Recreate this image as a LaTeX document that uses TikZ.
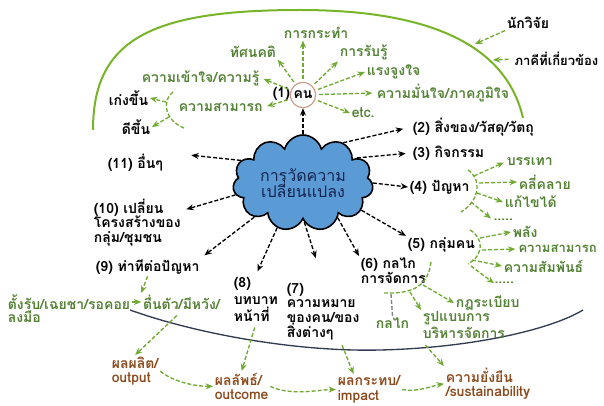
\documentclass[tikz,border=0pt]{standalone}
\usepackage{fontspec}
\newfontfamily\thaifont[Script=Thai]{Loma}
\usetikzlibrary{arrows.meta,shapes.symbols,positioning}
\definecolor{leafgreen}{RGB}{84,130,53}
\definecolor{arrowgreen}{RGB}{112,170,50}
\definecolor{rimgreen}{RGB}{120,180,40}
\definecolor{outbrown}{RGB}{140,75,30}
\definecolor{cloudblue}{RGB}{91,155,213}
\definecolor{cloudtext}{RGB}{20,35,80}
\definecolor{rimbrown}{RGB}{200,160,140}
\definecolor{curvegray}{RGB}{50,60,80}

\tikzset{every picture/.style={line width=0.75pt}}
\tikzset{
  lbl/.style={font=\thaifont\bfseries\fontsize{10.5}{11}\selectfont, inner sep=1pt, align=left, anchor=west},
  narrow/.style={font=\thaifont\bfseries\fontsize{9.8}{11}\selectfont, inner sep=0pt},
  glbl/.style={lbl, text=leafgreen},
  blbl/.style={lbl, text=outbrown},
  dots/.style={glbl, anchor=base west, inner sep=0pt},
  barrow/.style={draw=black, line width=1pt, dash pattern=on 3pt off 1.5pt, -{Stealth[length=5.5pt,width=4.5pt]}},
  garrow/.style={draw=arrowgreen, line width=1pt, dash pattern=on 3pt off 1.5pt, -{Stealth[length=5.5pt,width=4.5pt]}},
  gbrace/.style={draw=arrowgreen, line width=1pt, dash pattern=on 3pt off 1.5pt},
}

\begin{document}
\begin{tikzpicture}[x=0.75pt,y=0.75pt,yscale=-1,xscale=1]
	\path[use as bounding box] (0,0) rectangle (604,406);

	%Curve Lines (green rim)
	\draw[rimgreen, line width=1.5pt] (93,130) .. controls (93,40) and (150,10) .. (300,10) .. controls (420,10) and (505,40) .. (523,118);
	%Curve Lines (dark rim)
	\draw[curvegray, line width=1pt] (130,310) .. controls (200,335) and (300,352) .. (380,350) .. controls (470,348) and (550,330) .. (583,310);

	% Cloud
	\node[cloud, cloud puffs=11, cloud ignores aspect, draw, line width=1.2pt, fill=cloudblue, minimum width=98pt, minimum height=72pt, align=center, text=cloudtext, font=\thaifont\fontsize{12}{12.5}\selectfont] (cloud) at (303,183) {การวัดความ\\เปลี่ยนแปลง};

	% Person
	\node[lbl, anchor=center, circle, draw=rimbrown, fill=white, line width=0.9pt, minimum size=19pt, inner sep=0pt] (person) at (303,95) {คน};
	\node[lbl] (n1) at (271,94) {(1)};

	% Text Node
	\node[glbl] (act) at (282,33) {การกระทำ};
	\node[glbl] (atti) at (228,52) {ทัศนคติ};
	\node[glbl] (perc) at (338,52) {การรับรู้};
	\node[glbl] (moti) at (365,72) {แรงจูงใจ};
	\node[glbl] (conf) at (375,93) {ความมั่นใจ/ภาคภูมิใจ};
	\node[glbl] (etc) at (350,113) {etc.};
	\node[glbl] (know) at (140,78) {ความเข้าใจ/ความรู้};
	\node[glbl] (abil) at (177,107) {ความสามารถ};
	\node[lbl] (good1) at (107,98) {เก่งขึ้น};
	\node[lbl] (good2) at (120,127) {ดีขึ้น};

	\draw[garrow, shorten <=2pt] (person) -- (act.south -| person);
	\draw[garrow, shorten <=2pt] (person) -- (atti.south east);
	\draw[garrow, shorten <=2pt] (person) -- (perc.south west);
	\draw[garrow, shorten <=2pt] (person) -- (moti.west);
	\draw[garrow, shorten <=2pt, shorten >=2pt] (person) -- (conf.west);
	\draw[garrow, shorten <=2pt] (person) -- (etc.west);
	\draw[garrow, shorten <=2pt, shorten >=2pt] (person) -- (know.east);
	\draw[garrow, shorten <=2pt, shorten >=2pt] (person) -- (abil.east);

	\draw[gbrace] (173,92) .. controls (162,100) and (164,120) .. (184,128);
	\coordinate (ab1) at (166,102);
	\coordinate (ab2) at (169,117);
	\draw[garrow] (ab1) -- (good1.east);
	\draw[garrow] (ab2) -- (good2.east);

	% Researchers
	\node[lbl] (res) at (505,23) {นักวิจัย};
	\node[lbl, narrow] (party) at (514,59) {ภาคีที่เกี่ยวข้อง};
	\coordinate (rim1) at (475,44);
	\coordinate (rim2) at (493,60);
	\draw[garrow] (res.south west) -- (rim1);
	\draw[garrow, shorten <=4pt] (party.west) -- (rim2);

	% Numbered Nodes
	\node[lbl] (n2) at (411,127) {(2) สิ่งของ/วัสดุ/วัตถุ};
	\node[lbl] (n3) at (411,153) {(3) กิจกรรม};
	\node[lbl] (n4) at (408,187) {(4) ปัญหา};
	\node[lbl] (n5) at (406,245) {(5) กลุ่มคน};
	\node[lbl, anchor=north west] (n6) at (359,256) {(6) กลไก\\การจัดการ};
	\node[lbl, anchor=north west] (n7) at (285,281) {(7)\\ความหมาย\\ของคน/ของ\\สิ่งต่างๆ};
	\node[lbl, anchor=north west] (n8) at (232,275) {(8)\\[2pt]บทบาท\\[2pt]หน้าที่};
	\node[lbl] (n9) at (94,267) {(9) ท่าทีต่อปัญหา};
	\node[lbl, anchor=north west] (n10) at (92,197) {(10) เปลี่ยน\\โครงสร้างของ\\กลุ่ม/ชุมชน};
	\node[lbl] (n11) at (106,163) {(11) อื่นๆ};

	\draw[barrow] (cloud.north) -- (person);
	\draw[barrow, shorten >=6pt] (cloud.45) -- (n2.west);
	\draw[barrow, shorten >=4pt] (cloud.25) -- (n3.west);
	\draw[barrow] (cloud.0) -- (n4.west);
	\draw[barrow] (cloud.-25) -- (n5.north west);
	\draw[barrow] (cloud.-45) -- (n6.north west);
	\draw[barrow, shorten >=18pt] (cloud.-88) -- (n7.north);
	\draw[barrow, shorten >=3pt] (cloud.-120) -- (n8.north);
	\draw[barrow, shorten >=3pt] (cloud.-145) -- (n9.north east);
	\draw[barrow, shorten >=3pt] (cloud.-170) -- (n10.15);
	\draw[barrow, shorten >=20pt] (cloud.160) -- (n11.north east);

	% Problem branch
	\draw[gbrace] (468,170) .. controls (481,178) and (481,200) .. (461,212);
	\coordinate (p4a) at (474,176);
	\coordinate (p4b) at (479,183);
	\coordinate (p4c) at (477,193);
	\coordinate (p4d) at (471,202);
	\node[glbl] (eas) at (505,162) {บรรเทา};
	\node[glbl] (sol) at (517,182) {คลี่คลาย};
	\node[glbl] (fix) at (503,202) {แก้ไขได้};
	\node[dots] (more4) at (493,221) {.....};
	\draw[garrow, shorten >=1pt] (p4a) -- (eas.west);
	\draw[garrow] (p4b) -- (sol.west);
	\draw[garrow] (p4c) -- (fix.west);
	\draw[garrow, shorten >=2pt] (p4d) -- (more4.west);

	% Group branch
	\draw[gbrace] (470,230) .. controls (484,238) and (484,255) .. (468,264);
	\coordinate (p5a) at (480,238);
	\coordinate (p5b) at (482,250);
	\coordinate (p5c) at (472,260);
	\coordinate (p5d) at (471,266);
	\node[glbl] (pow) at (511,232) {พลัง};
	\node[glbl, narrow] (abil5) at (518,249) {ความสามารถ};
	\node[glbl] (rel) at (502,266) {ความสัมพันธ์};
	\node[dots] (more5) at (494,284) {.....};
	\draw[garrow] (p5a) -- (pow.west);
	\draw[garrow, shorten >=2pt] (p5b) -- (abil5.west);
	\draw[garrow] (p5c) -- (rel.west);
	\draw[garrow] (p5d) -- (more5.west);

	% Mechanism branch
	\draw[gbrace] (431,262) .. controls (428,285) and (415,294) .. (384,293);
	\coordinate (p6a) at (423,285);
	\coordinate (p6b) at (410,292);
	\coordinate (p6c) at (391,294);
	\node[glbl] (rule) at (454,303) {กฎระเบียบ};
	\node[glbl, anchor=north west] (form) at (421,310) {รูปแบบการ\\บริหารจัดการ};
	\node[glbl] (mech) at (374,323) {กลไก};
	\draw[garrow] (p6a) -- (rule.west);
	\draw[garrow] (p6b) -- (form.north west);
	\draw[gray, line width=1pt, dash pattern=on 3pt off 1.5pt] (p6c) -- (mech.north);

	% Attitude line
	\node[glbl] (wait) at (6,302) {ตั้งรับ/เฉยชา/รอคอย};
	\node[glbl, right=7pt of wait] (alert) {ตื่นตัว/มีหวัง/};
	\node[glbl] (engage) at (6,317) {ลงมือ};
	\draw[garrow] (n9.south) -- (alert.north west);
	\draw[garrow] (wait.east) -- (alert.west);

	% Outcomes
	\node[blbl, anchor=north west] (out1) at (110,355) {ผลผลิต/\\output};
	\node[blbl, anchor=north west] (out2) at (213,371) {ผลลัพธ์/\\outcome};
	\node[blbl, anchor=north west] (out3) at (336,374) {ผลกระทบ/\\impact};
	\node[blbl, anchor=north west] (out4) at (444,366) {ความยั่งยืน\\/sustainability};

	\draw[garrow, shorten <=5pt] (alert.south) -- (out1.north);
	\draw[garrow] (out1.east) .. controls +(15,12) and +(-15,0) .. (out2.west);
	\draw[garrow] (out2.east) .. controls +(20,10) and +(-15,0) .. (out3.west);
	\draw[garrow] (out3.east) .. controls +(15,3) and +(-12,2) .. (out4.west);
	\draw[garrow, shorten <=3pt] (n8.south) -- (out2.north);
	\draw[garrow, shorten <=3pt] (n7.-60) -- (out3.135);
	\draw[garrow, shorten <=5pt] (form.south west) -- (out4.north west);

\end{tikzpicture}
\end{document}
